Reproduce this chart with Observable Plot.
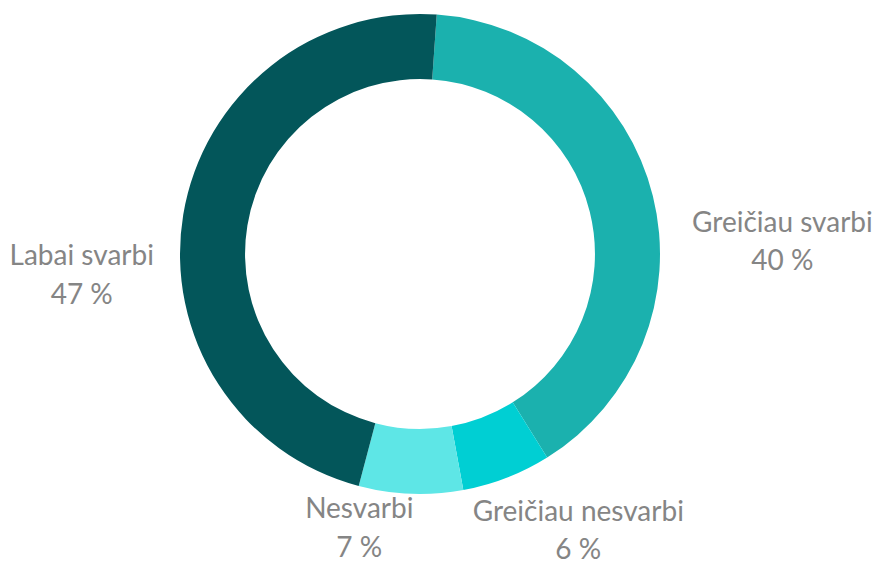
<!DOCTYPE html>
<html><head><meta charset="utf-8">
<script src="https://cdn.jsdelivr.net/npm/d3@7"></script>
<script src="https://cdn.jsdelivr.net/npm/@observablehq/plot@0.6"></script>
<style>html,body{margin:0;padding:0;background:#fff;overflow:hidden}</style>
</head><body><div id="chart"></div>
<script>
const categories = ["Greičiau svarbi", "Greičiau nesvarbi", "Nesvarbi", "Labai svarbi"];
const values = [40, 6, 7, 47];
const valueLabels = ["40 %", "6 %", "7 %", "47 %"];
const colors = ["#1bb1ae", "#00cfd3", "#5ee6e6", "#03565a"];

const W = 872, H = 563;
const startDeg = 4;
const innerRatio = 0.729;
// label placement tweaks (pixels) relative to the outer edge at each slice's middle
const labelShift = [[129, 42], [71, 50], [-52, 31], [-102, 57]];

const data = categories.map((c, i) => ({category: c, value: values[i], label: valueLabels[i], color: colors[i]}));
const arcs = d3.pie().value(d => d.value).sort(null)
  .startAngle(startDeg * Math.PI / 180)
  .endAngle((360 + startDeg) * Math.PI / 180)(data);

const R = 240; // pixels per unit
const xDomain = [-420 / R, (W - 420) / R];
const yDomain = [-(H - 254) / R, 254 / R];

const labelData = arcs.map((a, i) => {
  const m = (a.startAngle + a.endAngle) / 2;
  return {
    x: Math.sin(m) + labelShift[i][0] / R,
    y: Math.cos(m) - labelShift[i][1] / R,
    text: a.data.category + "\n" + a.data.label
  };
});

function donut(index, scales) {
  const cx = scales.x(0), cy = scales.y(0), r = scales.x(1) - cx;
  const arc = d3.arc().innerRadius(r * innerRatio).outerRadius(r);
  const g = d3.create("svg:g").attr("transform", `translate(${cx},${cy})`);
  g.selectAll("path").data(arcs).join("path")
    .attr("d", arc)
    .attr("fill", d => d.data.color);
  return g.node();
}

const chart = Plot.plot({
  width: W, height: H,
  margin: 0,
  x: {domain: xDomain, range: [0, W], axis: null},
  y: {domain: yDomain, range: [H, 0], axis: null},
  style: {fontFamily: "Lato, 'Open Sans', sans-serif", background: "#fff"},
  marks: [
    donut,
    Plot.text(labelData, {x: "x", y: "y", text: "text", fontSize: 28, lineHeight: 1.36, fill: "#858585", textAnchor: "middle", lineAnchor: "middle"})
  ]
});
document.getElementById("chart").appendChild(chart);
</script>
</body></html>
